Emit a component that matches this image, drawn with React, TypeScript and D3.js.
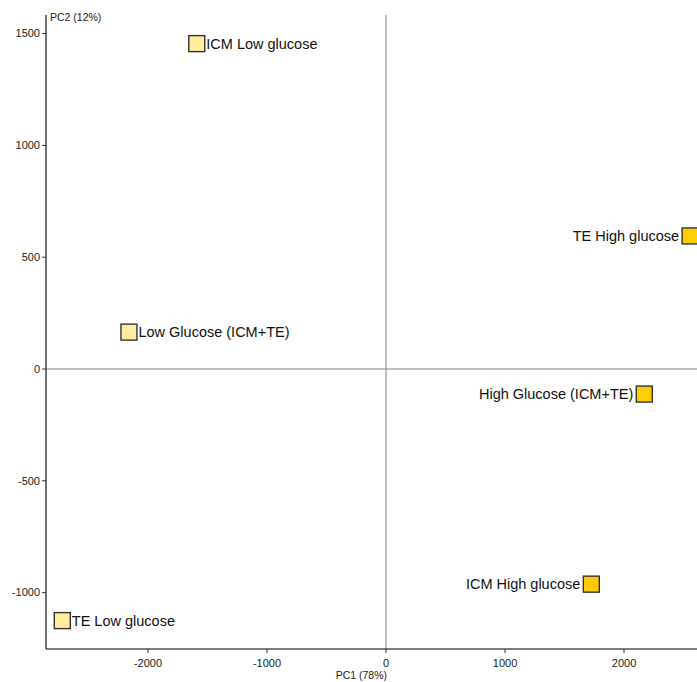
import React from "react";
import * as d3 from "d3";

// PCA scores per sample group
const samples = [
  "ICM Low glucose",
  "TE High glucose",
  "Low Glucose (ICM+TE)",
  "High Glucose (ICM+TE)",
  "ICM High glucose",
  "TE Low glucose",
];
const pc1 = [-1590, 2555, -2160, 2170, 1725, -2720];
const pc2 = [1455, 595, 165, -112, -962, -1125];
const glucose = ["Low", "High", "Low", "High", "High", "Low"];

const xTicks = [-2000, -1000, 0, 1000, 2000];
const yTicks = [-1000, -500, 0, 500, 1000, 1500];

const W = 697;
const H = 682;
const left = 46;
const right = 697;
const top = 15;
const bottom = 649;

const fillFor: Record<string, string> = { Low: "#FFEC9E", High: "#FFCC00" };

export default function App() {
  const x = d3.scaleLinear().domain([-2857, 2613]).range([left, right]);
  const y = d3.scaleLinear().domain([-1252, 1583]).range([bottom, top]);
  const font = "'Liberation Sans', Arial, sans-serif";
  const size = 16;

  return (
    <svg
      width={W}
      height={H}
      style={{ position: "absolute", left: 0, top: 0, display: "block", background: "#fff" }}
      fontFamily={font}
    >
      <defs>
        <clipPath id="plot">
          <rect x={left} y={top} width={right - left} height={bottom - top} />
        </clipPath>
      </defs>

      {/* zero reference lines */}
      <line x1={x(0)} x2={x(0)} y1={top} y2={bottom} stroke="#808080" strokeWidth={1} />
      <line x1={left} x2={right} y1={y(0)} y2={y(0)} stroke="#808080" strokeWidth={1} />

      {/* axes */}
      <line x1={left} x2={left} y1={top} y2={bottom} stroke="#000" strokeWidth={1.1} />
      <line x1={left} x2={right} y1={bottom} y2={bottom} stroke="#000" strokeWidth={1.1} />

      {xTicks.map((t) => (
        <g key={"x" + t}>
          <line x1={x(t)} x2={x(t)} y1={bottom} y2={bottom + 4} stroke="#333" />
          <text x={x(t)} y={667} fontSize={11} textAnchor="middle" fill="#222">
            {t}
          </text>
        </g>
      ))}
      {yTicks.map((t) => (
        <g key={"y" + t}>
          <line x1={left - 4} x2={left} y1={y(t)} y2={y(t)} stroke="#333" />
          <text x={40} y={y(t)} dy="0.35em" fontSize={11} textAnchor="end" fill="#222">
            {t}
          </text>
        </g>
      ))}

      <text x={387} y={679} fontSize={10.5} textAnchor="end" fill="#222">
        PC1 (78%)
      </text>
      <text x={50} y={21} fontSize={10.5} fill="#222">
        PC2 (12%)
      </text>

      <g clipPath="url(#plot)">
        {samples.map((s, i) => {
          const cx = x(pc1[i]);
          const cy = y(pc2[i]);
          const high = glucose[i] === "High";
          return (
            <g key={s}>
              <rect
                x={cx - size / 2}
                y={cy - size / 2}
                width={size}
                height={size}
                fill={fillFor[glucose[i]]}
                stroke="#333"
                strokeWidth={1.4}
              />
              <text
                x={high ? cx - size / 2 - 3 : cx + size / 2 + 1.5}
                y={cy}
                dy="0.36em"
                fontSize={14.5}
                textAnchor={high ? "end" : "start"}
                fill="#111"
              >
                {s}
              </text>
            </g>
          );
        })}
      </g>
    </svg>
  );
}
